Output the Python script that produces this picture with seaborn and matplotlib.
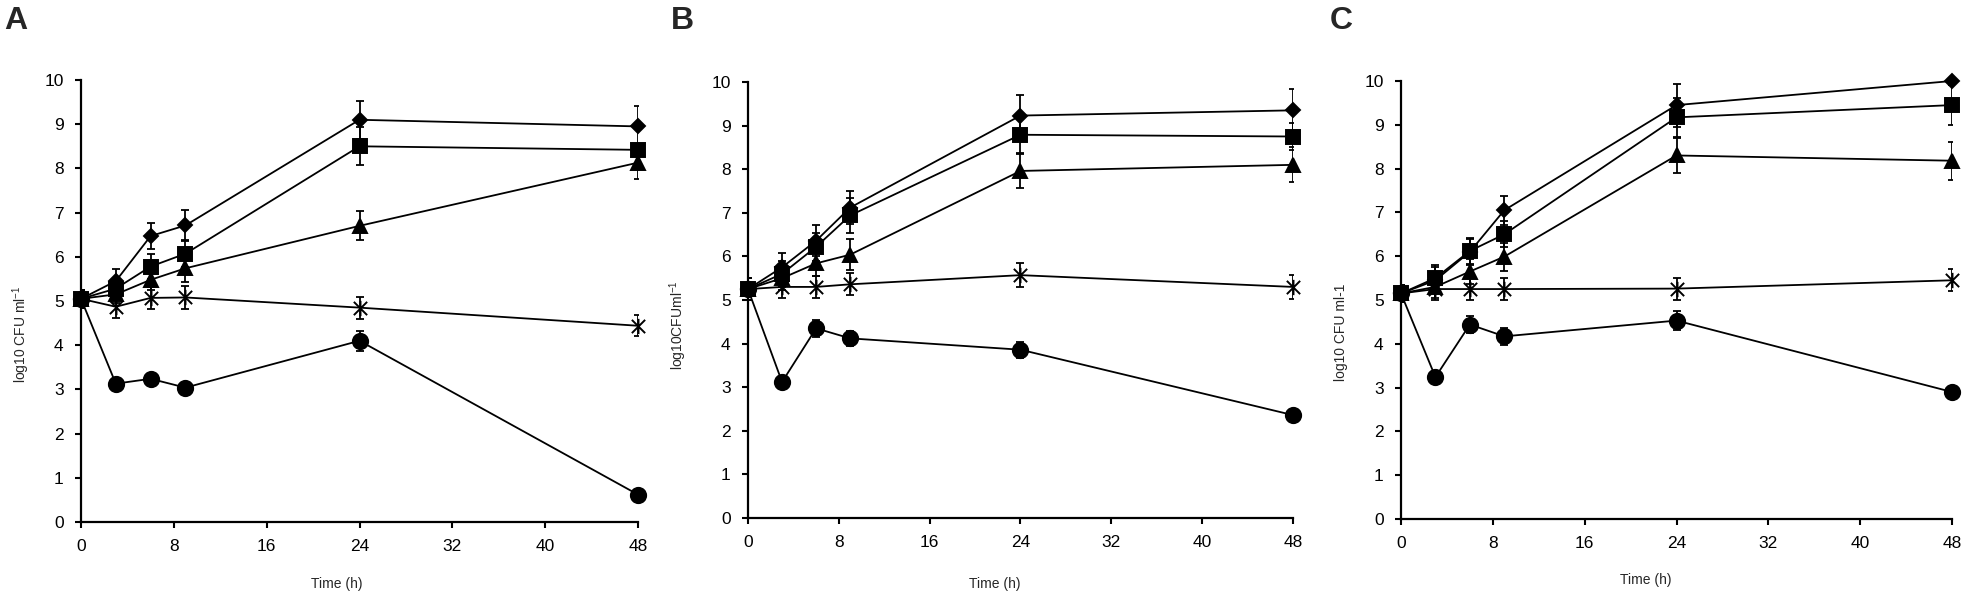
import pandas as pd
import matplotlib
matplotlib.use('Agg')
import matplotlib.pyplot as plt
from matplotlib.path import Path
import seaborn as sns

# sampling times (h)
time_h = [0, 3, 6, 9, 24, 48]

# panel A
a_diamond = [5.05, 5.45, 6.47, 6.71, 9.10, 8.95]
a_diamond_err = [0.20, 0.28, 0.30, 0.35, 0.43, 0.47]
a_square = [5.05, 5.28, 5.78, 6.07, 8.50, 8.42]
a_square_err = [0.20, 0.25, 0.28, 0.30, 0.43, 0.12]
a_triangle = [5.05, 5.15, 5.48, 5.74, 6.70, 8.13]
a_triangle_err = [0.20, 0.20, 0.22, 0.30, 0.33, 0.37]
a_star = [5.05, 4.87, 5.07, 5.08, 4.85, 4.44]
a_star_err = [0.20, 0.25, 0.25, 0.27, 0.25, 0.24]
a_circle = [5.05, 3.13, 3.24, 3.04, 4.10, 0.62]
a_circle_err = [0.20, 0.08, 0.10, 0.08, 0.22, 0.05]

# panel B
b_diamond = [5.25, 5.75, 6.36, 7.12, 9.23, 9.35]
b_diamond_err = [0.25, 0.33, 0.35, 0.38, 0.47, 0.49]
b_square = [5.25, 5.60, 6.22, 6.94, 8.79, 8.75]
b_square_err = [0.25, 0.30, 0.32, 0.40, 0.42, 0.30]
b_triangle = [5.25, 5.50, 5.84, 6.04, 7.96, 8.10]
b_triangle_err = [0.25, 0.28, 0.30, 0.35, 0.40, 0.40]
b_star = [5.25, 5.30, 5.30, 5.36, 5.57, 5.30]
b_star_err = [0.25, 0.25, 0.25, 0.25, 0.28, 0.27]
b_circle = [5.25, 3.12, 4.35, 4.12, 3.86, 2.36]
b_circle_err = [0.25, 0.08, 0.20, 0.18, 0.18, 0.06]

# panel C
c_diamond = [5.15, 5.45, 6.10, 7.05, 9.45, 10.0]
c_diamond_err = [0.20, 0.30, 0.30, 0.33, 0.49, 0.10]
c_square = [5.15, 5.50, 6.12, 6.50, 9.17, 9.45]
c_square_err = [0.20, 0.30, 0.30, 0.30, 0.45, 0.46]
c_triangle = [5.15, 5.30, 5.65, 5.99, 8.30, 8.18]
c_triangle_err = [0.20, 0.25, 0.28, 0.32, 0.40, 0.43]
c_star = [5.15, 5.25, 5.25, 5.25, 5.26, 5.45]
c_star_err = [0.20, 0.25, 0.25, 0.25, 0.25, 0.25]
c_circle = [5.15, 3.24, 4.44, 4.17, 4.53, 2.90]
c_circle_err = [0.20, 0.08, 0.20, 0.20, 0.22, 0.06]

panel_letters = ['A', 'B', 'C']
y_labels = ['log10 CFU ml$^{-1}$', 'log10CFUml$^{-1}$', 'log10 CFU ml-1']
x_label = 'Time (h)'
x_ticks = [0, 8, 16, 24, 32, 40, 48]
y_ticks = list(range(0, 11))

panels = [
    [(a_diamond, a_diamond_err), (a_square, a_square_err), (a_triangle, a_triangle_err),
     (a_star, a_star_err), (a_circle, a_circle_err)],
    [(b_diamond, b_diamond_err), (b_square, b_square_err), (b_triangle, b_triangle_err),
     (b_star, b_star_err), (b_circle, b_circle_err)],
    [(c_diamond, c_diamond_err), (c_square, c_square_err), (c_triangle, c_triangle_err),
     (c_star, c_star_err), (c_circle, c_circle_err)],
]

# excel-like star: an X with a vertical bar through it
star_path = Path(
    [(-1, -1), (1, 1), (-1, 1), (1, -1), (0, -1.15), (0, 1.15)],
    [Path.MOVETO, Path.LINETO, Path.MOVETO, Path.LINETO, Path.MOVETO, Path.LINETO],
)

# marker, size (pt), filled?
marker_styles = [('D', 7.5, True), ('s', 10, True), ('^', 10, True),
                 (star_path, 11, False), ('o', 11, True)]

sns.set_theme(style='white')
plt.rcParams['font.family'] = ['Liberation Sans', 'DejaVu Sans']
plt.rcParams['mathtext.default'] = 'regular'

W, H = 1971, 611
fig = plt.figure(figsize=(W / 100, H / 100), dpi=100)

# axes boxes in pixels: left, right, top, bottom
boxes = [(81, 638, 80, 522), (748, 1293, 82, 518), (1401, 1952, 81, 519)]
letter_pos = [(4, 6), (671, 6), (1330, 6)]
ylabel_pos = [(21, 334), (678, 325), (1341, 332)]
xlabel_pos = [(337, 584), (995, 584), (1646, 580)]

for i, (l, r, t, b) in enumerate(boxes):
    ax = fig.add_axes([l / W, (H - b) / H, (r - l) / W, (b - t) / H])
    for (vals, errs), (mk, ms, filled) in zip(panels[i], marker_styles):
        df = pd.DataFrame({'time': time_h, 'value': vals})
        ax.errorbar(time_h, vals, yerr=errs, fmt='none', ecolor='black',
                    elinewidth=1.3, capsize=3, capthick=1.3, zorder=2)
        sns.lineplot(data=df, x='time', y='value', ax=ax, color='black',
                     linewidth=1.3, marker=mk, markersize=ms,
                     markeredgecolor='black',
                     markerfacecolor='black' if filled else 'none',
                     markeredgewidth=1.4, zorder=3, clip_on=False)
    ax.set_xlim(0, 48)
    ax.set_ylim(0, 10)
    ax.set_xticks(x_ticks)
    ax.set_yticks(y_ticks)
    ax.set_xlabel('')
    ax.set_ylabel('')
    sns.despine(ax=ax)
    for s in ['left', 'bottom']:
        ax.spines[s].set_color('black')
        ax.spines[s].set_linewidth(1.6)
    ax.tick_params(axis='both', direction='out', colors='black', labelsize=12.5,
                   width=1.5, length=4.5, pad=8, left=True, bottom=True)
    ax.patch.set_alpha(0)

    fig.text(letter_pos[i][0] / W, 1 - letter_pos[i][1] / H, panel_letters[i],
             fontsize=23, fontweight='bold', ha='left', va='top')
    fig.text(ylabel_pos[i][0] / W, 1 - ylabel_pos[i][1] / H, y_labels[i],
             fontsize=10, rotation=90, ha='center', va='center')
    fig.text(xlabel_pos[i][0] / W, 1 - xlabel_pos[i][1] / H, x_label,
             fontsize=10, ha='center', va='center')

fig.savefig('out.png', dpi=100, facecolor='white')
